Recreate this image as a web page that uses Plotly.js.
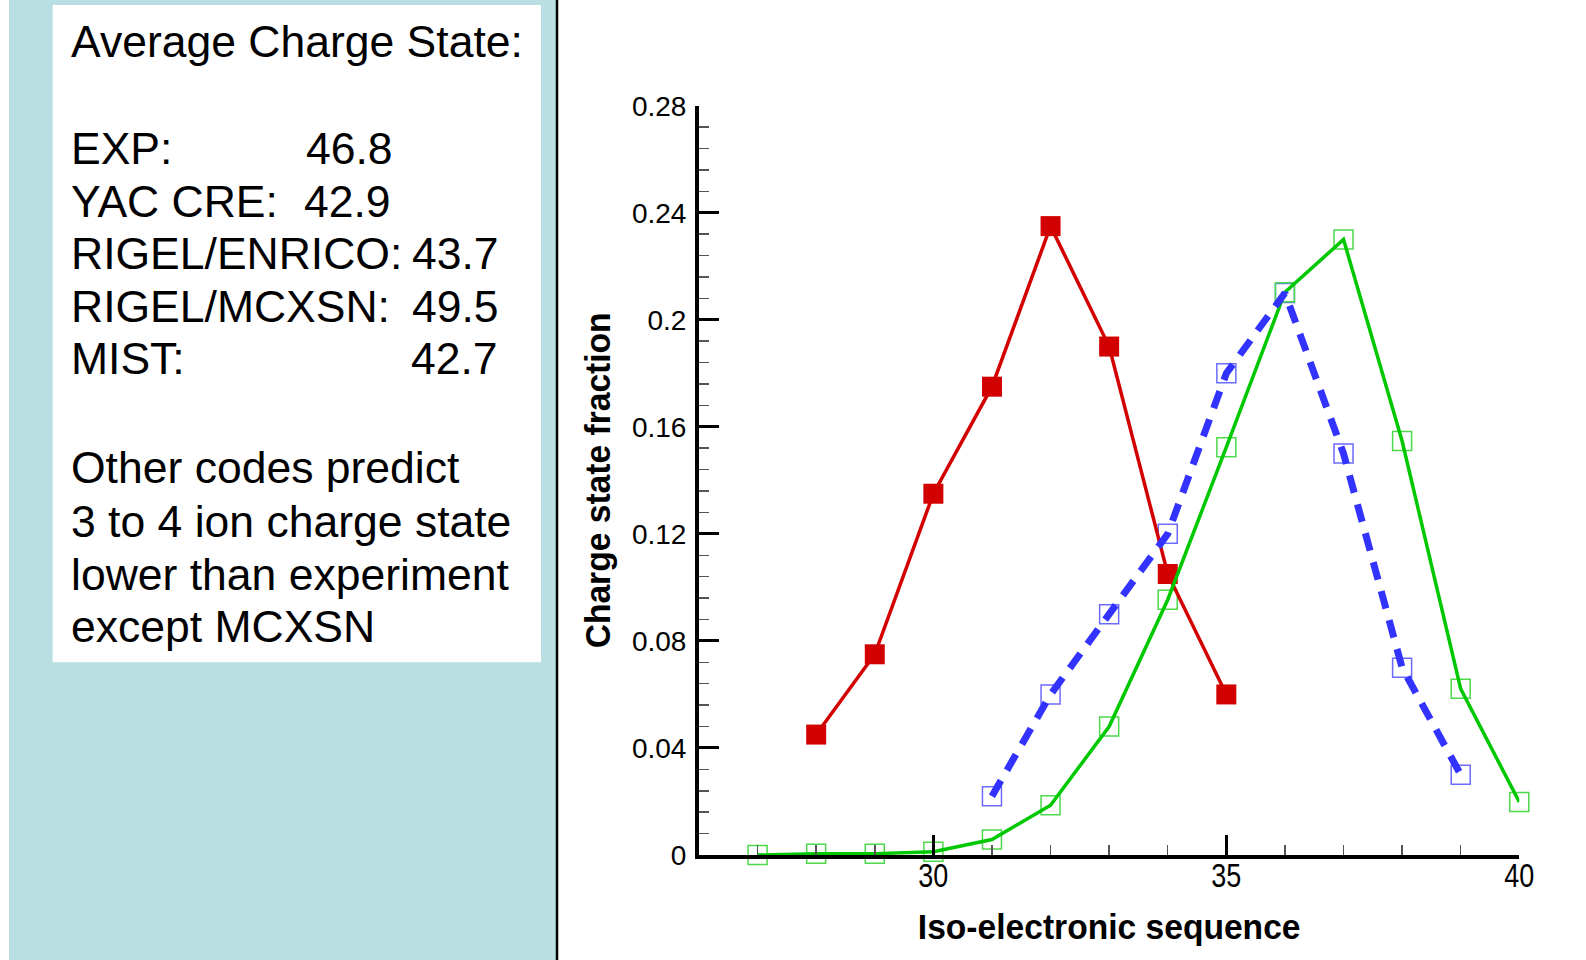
<!DOCTYPE html>
<html>
<head>
<meta charset="utf-8">
<script src="https://cdn.plot.ly/plotly-3.0.1.min.js"></script>
<style>
  html, body { margin: 0; padding: 0; background: #ffffff; }
  #chart { width: 1586px; height: 960px; }
</style>
</head>
<body>
<div id="chart"></div>
<script>
// ---- Data ----
const expX = [28, 29, 30, 31, 32, 33, 34, 35];
const expY = [0.045, 0.075, 0.135, 0.175, 0.235, 0.19, 0.105, 0.06];

const blueX = [31, 32, 33, 34, 35, 36, 37, 38, 39];
const blueY = [0.022, 0.06, 0.09, 0.12, 0.18, 0.21, 0.15, 0.07, 0.03];

const greenX = [27, 28, 29, 30, 31, 32, 33, 34, 35, 36, 37, 38, 39, 40];
const greenY = [0, 0.0005, 0.0005, 0.0012, 0.0058, 0.0186, 0.048, 0.0954, 0.1524, 0.2103, 0.23, 0.1547, 0.0621, 0.0198];

const xTickVals = [30, 35, 40];
const yTickVals = [0, 0.04, 0.08, 0.12, 0.16, 0.2, 0.24, 0.28];
const yTickText = ["0", "0.04", "0.08", "0.12", "0.16", "0.2", "0.24", "0.28"];

const panelTitle = "Average Charge State:";
const codeNames = ["EXP:", "YAC CRE:", "RIGEL/ENRICO:", "RIGEL/MCXSN:", "MIST:"];
const codeValues = ["46.8", "42.9", "43.7", "49.5", "42.7"];
const noteLines = ["Other codes predict", "3 to 4 ion charge state", "lower than experiment", "except MCXSN"];

// ---- Layout helpers (pixel -> paper) ----
const W = 1586, H = 960;
const px = v => v / W;
const py = v => 1 - v / H;

const FS = 44.5;
const textFont = { family: "Liberation Sans, Arial, sans-serif", size: FS, color: "#000000" };
const midOff = 0.3465 * FS;

const annotations = [];
function addText(text, xLeft, baseline) {
  annotations.push({
    text: text, xref: "paper", yref: "paper",
    x: px(xLeft), y: py(baseline - midOff),
    xanchor: "left", yanchor: "middle",
    showarrow: false, font: textFont,
    borderpad: 0, borderwidth: 0
  });
}
addText(panelTitle, 70.5, 57.3);
const codeBase = [164, 216.5, 269.2, 321.8, 374.3];
const valueLeft = [305.5, 304, 412, 412, 410.5];
codeNames.forEach((n, i) => {
  addText(n, 70.5, codeBase[i]);
  addText(codeValues[i], valueLeft[i], codeBase[i]);
});
const noteBase = [483.3, 536.7, 590, 641.7];
noteLines.forEach((t, i) => addText(t, 70.5, noteBase[i]));

const shapes = [
  { type: "rect", xref: "paper", yref: "paper", x0: px(9), x1: px(556), y0: 0, y1: 1,
    fillcolor: "#b9dfe2", line: { width: 0 }, layer: "below" },
  { type: "rect", xref: "paper", yref: "paper", x0: px(52.7), x1: px(541), y0: py(662.3), y1: py(5),
    fillcolor: "#ffffff", line: { width: 0 }, layer: "below" },
  { type: "line", xref: "paper", yref: "paper", x0: px(557), x1: px(557), y0: 0, y1: 1,
    line: { color: "#000000", width: 2.5 } }
];

const markerTraces = [
  { x: expX, y: expY, mode: "markers", type: "scatter", cliponaxis: false, showlegend: false,
    marker: { symbol: "square", size: 20, color: "#d20000", line: { width: 0 } } },
  { x: blueX, y: blueY, mode: "markers", type: "scatter", cliponaxis: false, showlegend: false,
    marker: { symbol: "square-open", size: 19, color: "#6b6bff", line: { width: 1.5, color: "#6b6bff" } } },
  { x: greenX, y: greenY, mode: "markers", type: "scatter", cliponaxis: false, showlegend: false,
    marker: { symbol: "square-open", size: 19, color: "#4cd94c", line: { width: 1.5, color: "#4cd94c" } } }
];
const lineTraces = [
  { x: expX, y: expY, mode: "lines", type: "scatter", cliponaxis: false, showlegend: false,
    line: { color: "#d20000", width: 3.5 } },
  { x: greenX, y: greenY, mode: "lines", type: "scatter", cliponaxis: false, showlegend: false,
    line: { color: "#00c800", width: 3.5 } },
  { x: blueX, y: blueY, mode: "lines", type: "scatter", cliponaxis: false, showlegend: false,
    line: { color: "#3333ff", width: 7, dash: "18px,12px" } }
];

const titleFont = { family: "Liberation Sans, Arial, sans-serif", size: 35, color: "#000000", weight: "bold" };

const layout = {
  width: W, height: H,
  margin: { l: 0, r: 0, t: 0, b: 0, pad: 0 },
  paper_bgcolor: "#ffffff", plot_bgcolor: "#ffffff",
  showlegend: false,
  shapes: shapes,
  annotations: annotations,
  xaxis: {
    domain: [px(699), px(1519.3)],
    range: [26, 40],
    showgrid: false, zeroline: false,
    showline: true, linecolor: "#000000", linewidth: 4,
    ticks: "inside", ticklen: 20, tickwidth: 3, tickcolor: "#000000",
    tickmode: "array", tickvals: xTickVals,
    ticklabelstandoff: -11,
    tickfont: { family: "Liberation Sans, Arial, sans-serif", size: 32.5, color: "#000000" },
    minor: { ticks: "inside", dtick: 1, tick0: 26, ticklen: 10, tickwidth: 1.5, tickcolor: "#555555", showgrid: false },
    title: { text: "Iso-electronic sequence", standoff: 23, font: titleFont }
  },
  yaxis: {
    domain: [py(855), py(105.7)],
    range: [0, 0.28],
    showgrid: false, zeroline: false,
    showline: true, linecolor: "#000000", linewidth: 4,
    ticks: "inside", ticklen: 20, tickwidth: 3, tickcolor: "#000000",
    tickmode: "array", tickvals: yTickVals, ticktext: yTickText,
    ticklabelstandoff: 3,
    tickfont: { family: "Liberation Sans, Arial, sans-serif", size: 28, color: "#000000" },
    minor: { ticks: "inside", dtick: 0.008, tick0: 0, ticklen: 10, tickwidth: 1.5, tickcolor: "#555555", showgrid: false },
    title: { text: "Charge state fraction", standoff: 12, font: titleFont }
  }
};

// horizontally condense a text node about its own centre (imitates a narrow face)
function condense(node, s) {
  const bb = node.getBBox();
  const cx = bb.x + bb.width / 2;
  const cy = bb.y + bb.height / 2;
  const prev = node.getAttribute("transform") || "";
  node.setAttribute("transform", prev + " translate(" + cx + "," + cy + ") scale(" + s + ",1) translate(" + (-cx) + "," + (-cy) + ")");
}

Plotly.newPlot("chart", markerTraces.concat(lineTraces), layout, { displayModeBar: false, staticPlot: true })
  .then(gd => {
    gd.querySelectorAll(".xtick text").forEach(t => condense(t, 0.83));
    const xt = gd.querySelector(".xtitle");
    if (xt) condense(xt, 0.96);
    const yt = gd.querySelector(".ytitle");
    if (yt) condense(yt, 0.96);
  });
</script>
</body>
</html>
